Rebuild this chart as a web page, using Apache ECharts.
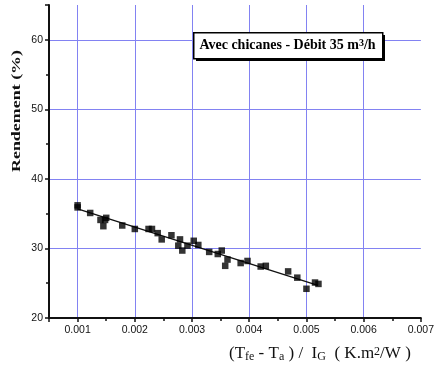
<!DOCTYPE html>
<html>
<head>
<meta charset="utf-8">
<script src="https://cdn.jsdelivr.net/npm/echarts@6/dist/echarts.min.js"></script>
<style>
html,body{margin:0;padding:0;background:#fff;}
#chart{width:437px;height:372px;}
</style>
</head>
<body>
<div id="chart"></div>
<script>
// Measured points: x = (Tfe - Ta)/IG (K.m2/W), y = Rendement (%)
var xValues = [0.0010, 0.0010, 0.00122, 0.00140, 0.00145, 0.00148, 0.00150, 0.00178, 0.00200, 0.00224,
               0.00230, 0.00240, 0.00247, 0.00264, 0.00279, 0.00276, 0.00283, 0.00292, 0.00303, 0.00311,
               0.00330, 0.00345, 0.00352, 0.00358, 0.00362, 0.00385, 0.00397, 0.00420, 0.00429, 0.00468,
               0.00484, 0.00500, 0.00515, 0.00521];
var yValues = [36.2, 35.9, 35.1, 34.1, 33.2, 34.1, 34.4, 33.3, 32.8, 32.8,
               32.8, 32.2, 31.3, 31.9, 31.3, 30.4, 29.7, 30.4, 31.1, 30.5,
               29.5, 29.2, 29.7, 27.5, 28.4, 27.9, 28.2, 27.4, 27.5, 26.7,
               25.8, 24.2, 25.1, 24.9];
// Linear fit line endpoints
var fitX = [0.0010, 0.0052];
var fitY = [35.7, 24.7];
var yTicks = [20, 30, 40, 50, 60];
var xTicks = [0.001, 0.002, 0.003, 0.004, 0.005, 0.006, 0.007];

var points = xValues.map(function (x, i) { return [x, yValues[i]]; });
var fit = fitX.map(function (x, i) { return [x, fitY[i]]; });

var chart = echarts.init(document.getElementById('chart'), null, {renderer: 'canvas'});
var gridColor = '#8282f2';
chart.setOption({
  animation: false,
  backgroundColor: '#fff',
  grid: {left: 49, right: 12, top: 5, bottom: 54, containLabel: false},
  xAxis: {
    type: 'value',
    min: 0.0005, max: 0.007,
    splitNumber: 6,
    axisLine: {show: true, lineStyle: {color: '#111', width: 2}},
    axisTick: {show: true, length: 4, inside: false, lineStyle: {color: '#111', width: 1.5}},
    minorTick: {show: true, splitNumber: 2, length: 3, lineStyle: {color: '#111', width: 1.5}},
    axisLabel: {
      margin: 7, color: '#111', fontSize: 10.5, fontFamily: 'Arial, Liberation Sans, sans-serif',
      formatter: function (v) {
        for (var i = 0; i < xTicks.length; i++) { if (Math.abs(v - xTicks[i]) < 1e-9) return xTicks[i].toFixed(3); }
        return '';
      }
    },
    splitLine: {show: true, showMinLine: false, showMaxLine: false, lineStyle: {color: gridColor, width: 1}}
  },
  yAxis: {
    type: 'value',
    min: 20, max: 65, interval: 10,
    axisLine: {show: true, lineStyle: {color: '#111', width: 2}},
    axisTick: {show: true, length: 4, lineStyle: {color: '#111', width: 1.5}},
    minorTick: {show: true, splitNumber: 2, length: 3, lineStyle: {color: '#111', width: 1.5}},
    axisLabel: {
      margin: 6, color: '#111', fontSize: 10.5, fontFamily: 'Arial, Liberation Sans, sans-serif',
      formatter: function (v) { return yTicks.indexOf(v) >= 0 ? String(v) : ''; }
    },
    splitLine: {show: true, showMinLine: false, showMaxLine: false, lineStyle: {color: gridColor, width: 1}}
  },
  series: [
    {
      type: 'line',
      data: fit,
      showSymbol: false,
      symbol: 'none',
      lineStyle: {color: '#111', width: 1.3},
      z: 2
    },
    {
      type: 'scatter',
      data: points,
      symbol: 'rect',
      symbolSize: 6.5,
      itemStyle: {color: '#000'},
      z: 3
    }
  ],
  graphic: [
    {
      type: 'rect', left: 196, top: 35, z: 10,
      shape: {width: 189, height: 26},
      style: {fill: '#000'}
    },
    {
      type: 'rect', left: 193, top: 32, z: 11,
      shape: {width: 189, height: 26},
      style: {fill: '#fff', stroke: '#000', lineWidth: 1.5}
    },
    {
      type: 'text', z: 12,
      x: 287.5, y: 45.5,
      style: {
        text: 'Avec chicanes - Débit 35 m{sup|3}/h',
        fontFamily: 'Liberation Serif, Times New Roman, serif',
        fontWeight: 'bold', fontSize: 14, fill: '#000',
        align: 'center', verticalAlign: 'middle',
        rich: {
          sup: {fontSize: 10, fontWeight: 'bold', fontFamily: 'Liberation Serif, serif', lineHeight: 9, verticalAlign: 'top'}
        }
      }
    },
    {
      type: 'text', z: 12,
      x: 17, y: 111,
      rotation: Math.PI / 2,
      scaleX: 1.38, scaleY: 1,
      style: {
        text: 'Rendement (%)',
        fontFamily: 'Liberation Serif, Times New Roman, serif',
        fontWeight: 'bold', fontSize: 13, fill: '#111',
        align: 'center', verticalAlign: 'middle'
      }
    },
    {
      type: 'text', z: 12,
      x: 229, y: 354,
      style: {
        text: '(T{sub|fe} - T{sub|a} ) /  I{sub|G}  ( K.m{sup|2}/W )',
        fontFamily: 'Liberation Serif, Times New Roman, serif',
        fontSize: 17, fill: '#111',
        align: 'left', verticalAlign: 'middle',
        rich: {
          sub: {fontSize: 12, fontFamily: 'Liberation Serif, serif', lineHeight: 11, verticalAlign: 'bottom'},
          sup: {fontSize: 12, fontFamily: 'Liberation Serif, serif', lineHeight: 11, verticalAlign: 'top'}
        }
      }
    }
  ]
});
</script>
</body>
</html>
